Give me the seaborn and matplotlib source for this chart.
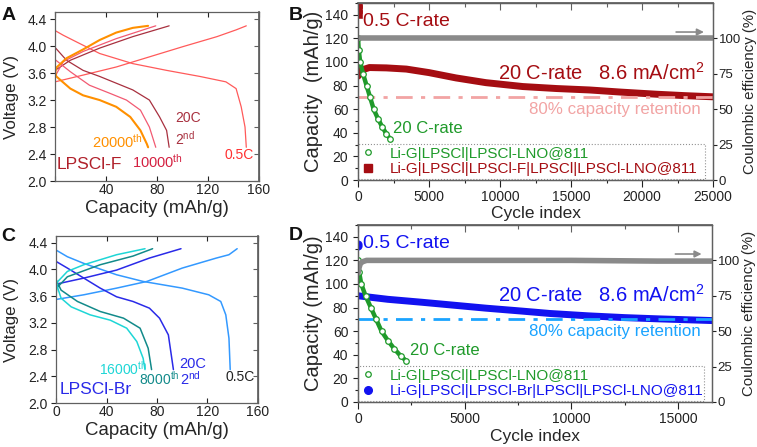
import numpy as np
import pandas as pd
import matplotlib
matplotlib.use("Agg")
import matplotlib.pyplot as plt
import seaborn as sns
from matplotlib.lines import Line2D
from matplotlib.ticker import MultipleLocator

sns.set_theme(style="ticks")
plt.rcParams['font.family'] = ['Liberation Sans', 'DejaVu Sans']
plt.rcParams['mathtext.fontset'] = 'custom'
plt.rcParams['mathtext.rm'] = 'Liberation Sans'
plt.rcParams['mathtext.it'] = 'Liberation Sans'

# ---- panel A: LPSCl-F voltage profiles (capacity mAh/g, voltage V) ----
a_05_chg_x = [0, 22, 48, 74, 100, 127, 142, 150]
a_05_chg_v = [3.47, 3.57, 3.69, 3.84, 3.99, 4.14, 4.24, 4.30]
a_05_dis_x = [0, 6.5, 17, 35, 61, 87.5, 113.6, 134, 142, 146, 149, 150]
a_05_dis_v = [4.23, 4.16, 4.06, 3.89, 3.74, 3.64, 3.55, 3.47, 3.37, 3.10, 2.80, 2.50]
a_2nd_chg_x = [0, 12, 35, 61, 89.5]
a_2nd_chg_v = [3.64, 3.79, 3.97, 4.14, 4.30]
a_2nd_dis_x = [0, 9, 22, 35, 48, 61, 74, 82, 87.5, 89.5]
a_2nd_dis_v = [3.98, 3.79, 3.64, 3.55, 3.45, 3.35, 3.20, 2.95, 2.75, 2.50]
a_10k_chg_x = [0, 6.5, 22, 48, 74, 79]
a_10k_chg_v = [3.55, 3.77, 3.92, 4.11, 4.27, 4.30]
a_10k_dis_x = [0, 12, 27, 43, 56, 67, 74, 79]
a_10k_dis_v = [3.80, 3.62, 3.42, 3.30, 3.20, 3.05, 2.80, 2.50]
a_20k_chg_x = [0, 1, 9, 22, 35, 48, 61, 73]
a_20k_chg_v = [3.60, 3.68, 3.82, 3.95, 4.09, 4.20, 4.27, 4.30]
a_20k_dis_x = [0, 1, 12, 22, 35, 48, 59, 67, 72, 73]
a_20k_dis_v = [3.62, 3.55, 3.37, 3.27, 3.20, 3.10, 2.95, 2.75, 2.55, 2.50]

# ---- panel C: LPSCl-Br voltage profiles ----
c_05_chg_x = [0, 22, 48, 72, 100, 127, 137, 143.5]
c_05_chg_v = [3.55, 3.62, 3.72, 3.82, 4.02, 4.17, 4.22, 4.31]
c_05_dis_x = [0, 9, 22, 48, 69, 100, 121, 130.5, 134.5, 137, 138]
c_05_dis_v = [4.29, 4.19, 4.09, 3.92, 3.82, 3.72, 3.62, 3.52, 3.32, 2.97, 2.50]
c_2nd_chg_x = [0, 2.6, 22, 48, 74, 99]
c_2nd_chg_v = [3.72, 3.79, 3.87, 3.99, 4.17, 4.31]
c_2nd_dis_x = [0, 9, 22, 35, 48, 61, 74, 82, 89, 93]
c_2nd_dis_v = [4.12, 4.02, 3.87, 3.72, 3.59, 3.52, 3.42, 3.27, 3.02, 2.50]
c_8k_chg_x = [0, 0, 0.5, 9, 35, 61, 76.5]
c_8k_chg_v = [2.50, 3.60, 3.72, 3.89, 4.07, 4.20, 4.31]
c_8k_dis_x = [0, 4, 17, 35, 53.5, 66.6, 73, 75.7]
c_8k_dis_v = [3.85, 3.69, 3.52, 3.37, 3.27, 3.12, 2.82, 2.50]
c_16k_chg_x = [0, 0, 0.5, 9, 22, 48, 70.5]
c_16k_chg_v = [2.50, 3.65, 3.80, 3.97, 4.07, 4.22, 4.31]
c_16k_dis_x = [0, 4, 12, 27, 43, 56, 64, 69, 70.5]
c_16k_dis_v = [3.80, 3.57, 3.44, 3.32, 3.24, 3.12, 2.92, 2.67, 2.50]

# ---- panels B/D: cycling ----
green_cycles = [0, 50, 150, 350, 600, 850, 1100, 1400, 1700, 2000, 2250]
green_cap = [120, 110, 100, 90, 80, 70, 60, 52, 45, 39, 35]

f_cycles = [0, 200, 800, 2000, 3400, 5000, 6900, 9000, 11600, 14000, 16300, 18500, 21000, 23000, 25000]
f_cap = [88, 93, 95.3, 95, 94, 91, 86.5, 82.5, 79.2, 77.5, 76.3, 74.5, 72.7, 71.5, 70.5]
f_half_cycles = [1, 2, 3]
f_half_cap = [141, 145, 149]
f_ce_cycles = [0, 5000, 10000, 15000, 20000, 25000]
f_ce = [100, 100, 100, 100, 100, 100]

br_cycles = [0, 1400, 3000, 4500, 6000, 7700, 9000, 10800, 12500, 14000, 16600]
br_cap = [90, 87, 84.5, 82, 79.5, 77, 75, 73, 71.5, 70.5, 69]
br_half_cycles = [1, 2]
br_half_cap = [132, 134]
br_ce_cycles = [0, 50, 100, 200, 400, 1000, 5000, 10000, 14000, 16600]
br_ce = [91, 95, 97.5, 99, 100, 100, 100, 100, 99.5, 99.5]

retention = 70

DARKRED = '#a50d12'
GREEN = '#1f9a2a'
BLUE = '#1212f0'
SPINE = '#606060'

fig = plt.figure(figsize=(7.57, 4.47), dpi=100)
axA = fig.add_axes([0.0727, 0.595, 0.2695, 0.3774])
axC = fig.add_axes([0.074, 0.0984, 0.2668, 0.3736])
axB = fig.add_axes([0.473, 0.5973, 0.469, 0.396])
axD = fig.add_axes([0.473, 0.1007, 0.4676, 0.396])


def curve(ax, x, v, color, lw=0.9):
    sns.lineplot(x=x, y=v, ax=ax, color=color, lw=lw, sort=False, estimator=None)


def style_axes(ax):
    for s in ax.spines.values():
        s.set_color(SPINE)
        s.set_linewidth(0.9)
    ax.tick_params(which='both', labelsize=10, colors='#222222', width=0.8)
    ax.tick_params(which='major', length=3.5)
    ax.tick_params(which='minor', length=2)


# Panel A
curve(axA, a_05_chg_x, a_05_chg_v, '#ff5a5a')
curve(axA, a_05_dis_x, a_05_dis_v, '#ff5a5a')
curve(axA, a_2nd_chg_x, a_2nd_chg_v, '#a8303f')
curve(axA, a_2nd_dis_x, a_2nd_dis_v, '#a8303f')
curve(axA, a_10k_chg_x, a_10k_chg_v, '#f25a72')
curve(axA, a_10k_dis_x, a_10k_dis_v, '#f25a72')
curve(axA, a_20k_chg_x, a_20k_chg_v, '#ff9000', 1.5)
curve(axA, a_20k_dis_x, a_20k_dis_v, '#ff9000', 1.5)
axA.text(69, 2.58, '20000$^{\\mathrm{th}}$', color='#ff9000', fontsize=10.5, ha='right', va='center')
axA.text(60, 2.29, '10000$^{\\mathrm{th}}$', color='#d42040', fontsize=10.5, ha='left', va='center')
axA.text(94, 2.93, '20C', color='#a8303f', fontsize=10, ha='left', va='center')
axA.text(94, 2.63, '2$^{\\mathrm{nd}}$', color='#a8303f', fontsize=10, ha='left', va='center')
axA.text(133, 2.39, '0.5C', color='#ff3030', fontsize=10, ha='left', va='center')
axA.text(1.5, 2.24, 'LPSCl-F', color='#b0202a', fontsize=12.5, ha='left', va='center')

# Panel C
curve(axC, c_05_chg_x, c_05_chg_v, '#3399ff', 1.1)
curve(axC, c_05_dis_x, c_05_dis_v, '#3399ff', 1.1)
curve(axC, c_2nd_chg_x, c_2nd_chg_v, '#2a2ae8', 1.1)
curve(axC, c_2nd_dis_x, c_2nd_dis_v, '#2a2ae8', 1.1)
curve(axC, c_8k_chg_x, c_8k_chg_v, '#128a8a', 1.1)
curve(axC, c_8k_dis_x, c_8k_dis_v, '#128a8a', 1.1)
curve(axC, c_16k_chg_x, c_16k_chg_v, '#1ed6d6', 1.1)
curve(axC, c_16k_dis_x, c_16k_dis_v, '#1ed6d6', 1.1)
axC.text(34, 2.52, '16000$^{\\mathrm{th}}$', color='#1ed6d6', fontsize=10, ha='left', va='center')
axC.text(66, 2.37, '8000$^{\\mathrm{th}}$', color='#128a8a', fontsize=10, ha='left', va='center')
axC.text(98, 2.59, '20C', color='#2a2ae8', fontsize=10.5, ha='left', va='center')
axC.text(98, 2.37, '2$^{\\mathrm{nd}}$', color='#2a2ae8', fontsize=10.5, ha='left', va='center')
axC.text(134.5, 2.39, '0.5C', color='#222222', fontsize=10, ha='left', va='center')
axC.text(2.6, 2.2, 'LPSCl-Br', color='#2a2ae8', fontsize=12.5, ha='left', va='center')

for ax, lab0 in [(axA, ''), (axC, '0')]:
    ax.set_xlim(0, 160)
    ax.set_ylim(2.0, 4.5)
    ax.set_xticks([0, 40, 80, 120, 160])
    ax.set_xticklabels([lab0, '40', '80', '120', '160'])
    ax.set_yticks(np.arange(2.0, 4.41, 0.4))
    ax.set_yticklabels([f'{t:.1f}' for t in np.arange(2.0, 4.41, 0.4)])
    ax.set_xlabel('Capacity (mAh/g)', fontsize=13.4)
    ax.set_ylabel('Voltage (V)', fontsize=12.2)
    style_axes(ax)
    ax.tick_params(axis='x', which='both', direction='in', top=True, pad=1.5)
    ax.tick_params(axis='y', which='both', direction='out', right=False, pad=2.5)
    sec = ax.secondary_yaxis('right')
    sec.set_yticks(np.arange(2.0, 4.41, 0.4))
    sec.tick_params(direction='in', labelright=False, length=3.5, width=0.8, color=SPINE)
    sec.spines['right'].set_color(SPINE)
axA.xaxis.set_label_coords(0.5, -0.11)
axA.yaxis.set_label_coords(-0.175, 0.5)
axC.xaxis.set_label_coords(0.5, -0.112)
axC.yaxis.set_label_coords(-0.182, 0.5)


def cycling(ax, cyc, cap, color, marker, half_c, half_cap, ce_c, ce, ret_color,
            xmax, ylab, leg_label, text_x_right, arrow_x):
    ax2 = ax.twinx()
    sns.lineplot(x=cyc, y=cap, ax=ax, color=color, lw=5, sort=False, estimator=None)
    sns.lineplot(x=green_cycles, y=green_cap, ax=ax, color=GREEN, lw=3.2, sort=False, estimator=None)
    sns.scatterplot(x=green_cycles, y=green_cap, ax=ax, marker='o', s=16,
                    facecolor='white', edgecolor=GREEN, linewidth=0.9, zorder=4)
    sns.scatterplot(x=half_c, y=half_cap, ax=ax, marker=marker, s=28, color=color,
                    edgecolor=color, zorder=5)
    ax.axhline(retention, color=ret_color, lw=2, dashes=(6, 3, 1.5, 3))
    sns.lineplot(x=ce_c, y=ce, ax=ax2, color='#8a8a8a', lw=4, sort=False, estimator=None)

    ax.set_xlim(0, xmax)
    ax.set_ylim(0, 150)
    ax.set_yticks(range(0, 141, 20))
    ax.yaxis.set_minor_locator(MultipleLocator(10))
    ax.xaxis.set_major_locator(MultipleLocator(5000))
    ax.xaxis.set_minor_locator(MultipleLocator(2500))
    ax2.set_ylim(0, 125)
    ax2.set_yticks(range(0, 101, 25))
    ax.set_xlabel('Cycle index', fontsize=12.5)
    ax.set_ylabel(ylab, fontsize=14.5)
    ax2.set_ylabel('Coulombic efficiency (%)', fontsize=10.8)
    style_axes(ax)
    style_axes(ax2)
    ax.tick_params(which='both', direction='out')
    ax.tick_params(axis='x', which='major', length=5, pad=2.5)
    ax2.tick_params(axis='y', direction='out', pad=1, length=3, labelsize=9.5)
    top = ax.secondary_xaxis('top')
    top.xaxis.set_major_locator(MultipleLocator(5000))
    top.xaxis.set_minor_locator(MultipleLocator(2500))
    top.tick_params(which='both', direction='in', labeltop=False, width=0.8, color=SPINE)
    top.tick_params(which='major', length=5)
    top.tick_params(which='minor', length=3)
    top.spines['top'].set_color(SPINE)

    ax.text(xmax * 0.015, 134, '0.5 C-rate', color=color, fontsize=14, ha='left', va='center')
    ax.text(text_x_right, 90.5, '20 C-rate   8.6 mA/cm$^2$', color=color, fontsize=14.5,
            ha='right', va='center')
    ax.text(text_x_right - xmax * 0.01, 59.5, '80% capacity retention', color=ret_color,
            fontsize=12.2, ha='right', va='center')
    ax.text(2440, 44, '20 C-rate', color=GREEN, fontsize=12, ha='left', va='center')
    ax2.annotate('', xy=(arrow_x[1], 104.5), xytext=(arrow_x[0], 104.5),
                 arrowprops=dict(arrowstyle='-|>', color='#8a8a8a', lw=1.2,
                                 mutation_scale=10))

    handles = [
        Line2D([], [], ls='none', marker='o', markersize=4, markerfacecolor='white',
               markeredgecolor=GREEN, markeredgewidth=0.9),
        Line2D([], [], ls='none', marker=marker, markersize=5.5, color=color),
    ]
    labels = ['Li-G|LPSCl|LPSCl-LNO@811', leg_label]
    leg = ax.legend(handles, labels, loc='lower left', bbox_to_anchor=(0.0, 0.008, 0.978, 0.2),
                    mode='expand', borderaxespad=0, fontsize=11, frameon=True,
                    fancybox=False, borderpad=0.15, labelspacing=0.1, handlelength=1.0,
                    handletextpad=0.9)
    for t, c in zip(leg.get_texts(), [GREEN, color]):
        t.set_color(c)
    fr = leg.get_frame()
    fr.set_linestyle(':')
    fr.set_edgecolor('#777777')
    fr.set_linewidth(0.8)
    fr.set_facecolor('none')
    return ax2


axB2 = cycling(axB, f_cycles, f_cap, DARKRED, 's', f_half_cycles, f_half_cap, f_ce_cycles, f_ce,
               '#f2a4a4', 25000, 'Capacity  (mAh/g)',
               'Li-G|LPSCl|LPSCl-F|LPSCl|LPSCl-LNO@811', 24370, (22200, 24550))
axD2 = cycling(axD, br_cycles, br_cap, BLUE, 'o', br_half_cycles, br_half_cap, br_ce_cycles, br_ce,
               '#1aa3ff', 16600, 'Capacity (mAh/g)',
               'Li-G|LPSCl|LPSCl-Br|LPSCl|LPSCl-LNO@811', 16230, (14750, 16240))

axB.xaxis.set_label_coords(0.5, -0.148)
axB.yaxis.set_label_coords(-0.098, 0.5)
axB2.yaxis.set_label_coords(1.084, 0.5)
axD.xaxis.set_label_coords(0.5, -0.152)
axD.yaxis.set_label_coords(-0.1, 0.5)
axD2.yaxis.set_label_coords(1.086, 0.5)

for lbl, x, y in [('A', 0.002, 0.985), ('B', 0.381, 0.985), ('C', 0.002, 0.49), ('D', 0.381, 0.492)]:
    fig.text(x, y, lbl, fontsize=14, fontweight='bold', ha='left', va='top', color='#111111')

fig.savefig('out.png', dpi=100)
